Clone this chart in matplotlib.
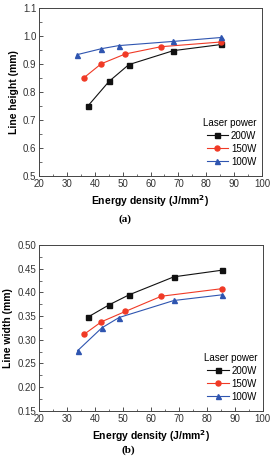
import matplotlib

matplotlib.use("Agg")
import matplotlib.pyplot as plt
from matplotlib.ticker import MultipleLocator

plt.rcParams["font.family"] = ["Liberation Sans", "DejaVu Sans"]

powers = ["200W", "150W", "100W"]
colors = {"200W": "#111111", "150W": "#f03a26", "100W": "#2f55b0"}
markers = {"200W": "s", "150W": "o", "100W": "^"}

# energy density (J/mm^2) per laser power
energy = {
    "200W": [37.5, 45.1, 52.2, 68.2, 85.4],
    "150W": [36.2, 42.3, 50.9, 63.7, 85.4],
    "100W": [33.8, 42.4, 48.6, 68.2, 85.4],
}
# (a) line height (mm)
height = {
    "200W": [0.749, 0.837, 0.897, 0.947, 0.969],
    "150W": [0.851, 0.900, 0.935, 0.961, 0.978],
    "100W": [0.933, 0.954, 0.965, 0.980, 0.994],
}
# (b) line width (mm)
width = {
    "200W": [0.348, 0.374, 0.395, 0.433, 0.447],
    "150W": [0.312, 0.338, 0.360, 0.392, 0.408],
    "100W": [0.277, 0.325, 0.347, 0.383, 0.395],
}


def draw_panel(ax, values, ylim, ystep, ylabel, yfmt):
    for p in powers:
        ax.plot(energy[p], values[p], color=colors[p], marker=markers[p],
                markersize=3.6, linewidth=0.8, label=p)
    ax.set_xlim(20, 100)
    ax.set_ylim(*ylim)
    ax.xaxis.set_major_locator(MultipleLocator(10))
    ax.xaxis.set_minor_locator(MultipleLocator(5))
    ax.yaxis.set_major_locator(MultipleLocator(ystep))
    ax.yaxis.set_minor_locator(MultipleLocator(ystep / 2))
    ax.yaxis.set_major_formatter(yfmt)
    ax.tick_params(which="both", direction="in", labelsize=7, colors="#333333",
                   top=False, right=False, pad=2)
    ax.tick_params(which="major", length=3, width=0.6)
    ax.tick_params(which="minor", length=1.8, width=0.5)
    for s in ax.spines.values():
        s.set_linewidth(0.7)
        s.set_color("#444444")
    ax.set_xlabel("Energy density (J/mm$^\\mathbf{2}$)", fontsize=7.5, fontweight="bold", labelpad=3)
    ax.set_ylabel(ylabel, fontsize=7.5, fontweight="bold", labelpad=3)
    leg = ax.legend(title="Laser power", loc="lower right", frameon=False, fontsize=7,
                    title_fontsize=7, handlelength=2.2, handletextpad=0.3,
                    labelspacing=0.3, borderaxespad=0.2, bbox_to_anchor=(1.0, 0.02))
    leg._legend_box.align = "right"


fig = plt.figure(figsize=(2.71, 4.59), dpi=100)
ax1 = fig.add_axes([0.144, 0.617, 0.823, 0.366])
ax2 = fig.add_axes([0.144, 0.105, 0.826, 0.361])

draw_panel(ax1, height, (0.5, 1.1), 0.1, "Line height (mm)", "{x:.1f}")
draw_panel(ax2, width, (0.15, 0.50), 0.05, "Line width (mm)", "{x:.2f}")

fig.text(0.462, 0.523, "(a)", fontsize=8, fontweight="bold", family="Liberation Serif",
         ha="center", va="center")
fig.text(0.472, 0.020, "(b)", fontsize=8, fontweight="bold", family="Liberation Serif",
         ha="center", va="center")

fig.savefig("out.png", dpi=100)
